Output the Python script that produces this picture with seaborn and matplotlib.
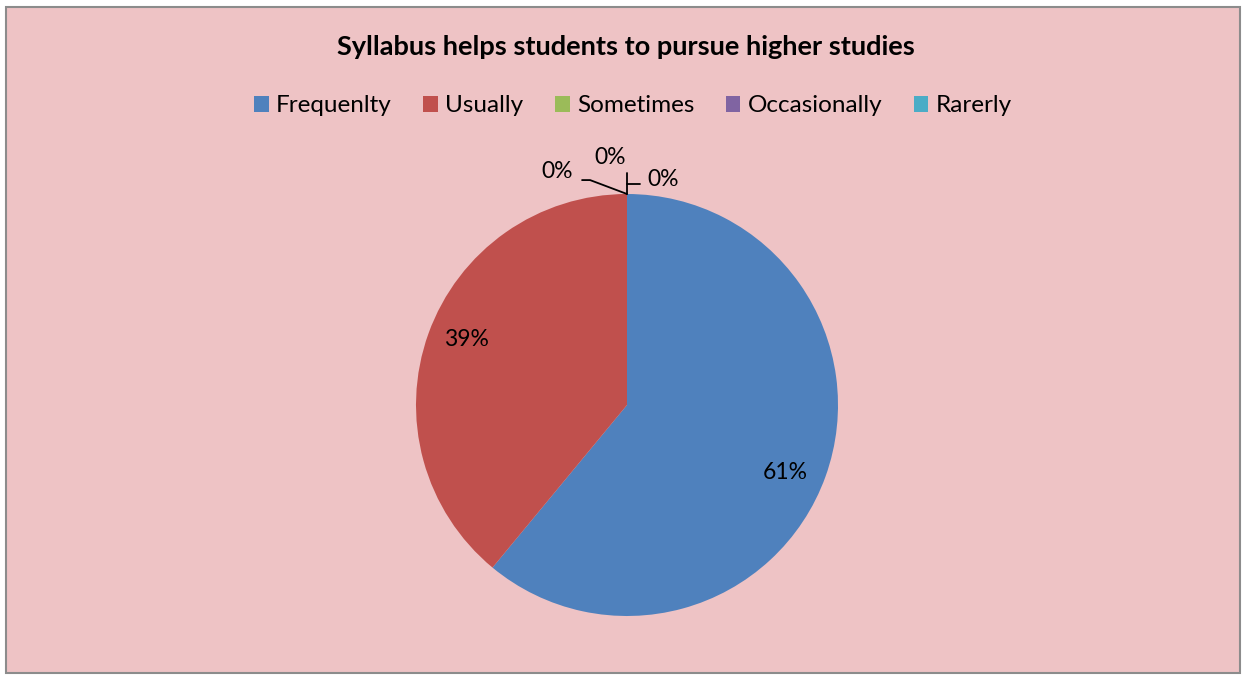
import matplotlib
matplotlib.use('Agg')
import matplotlib.pyplot as plt
import seaborn as sns
from matplotlib.patches import Rectangle

categories = ['Frequenlty', 'Usually', 'Sometimes', 'Occasionally', 'Rarerly']
shares = [61, 39, 0, 0, 0]
colors = ['#4F81BD', '#C0504D', '#9BBB59', '#8064A2', '#4BACC6']
title = 'Syllabus helps students to pursue higher studies'

sns.set_style('white')
plt.rcParams['font.family'] = ['Lato', 'DejaVu Sans']
plt.rcParams['text.color'] = 'black'

W, H = 1248, 675
fig = plt.figure(figsize=(W / 100, H / 100), dpi=100)
fig.patch.set_facecolor('white')

# chart area background
fig.patches.append(Rectangle((6 / W, 2 / H), (1240 - 6) / W, (668 - 2) / H,
                             transform=fig.transFigure, facecolor='#EEC3C5',
                             edgecolor='#8C8C8C', linewidth=1.5, zorder=-10))

cx, cy, r = 627, 405, 211
ax = fig.add_axes([(cx - r) / W, (H - cy - r) / H, 2 * r / W, 2 * r / H])
ax.axis('off')

wedges, _ = ax.pie(shares, colors=sns.color_palette(colors), startangle=90,
                   counterclock=False, radius=1, normalize=True,
                   wedgeprops=dict(linewidth=0))
ax.set_xlim(-1, 1)
ax.set_ylim(-1, 1)
ax.set_aspect('equal')

lab_kw = dict(fontsize=16.5, color='black', ha='center', va='center')
ax.text(0.75, -0.32, f'{shares[0]}%', **lab_kw)
ax.text(-0.76, 0.31, f'{shares[1]}%', **lab_kw)

# zero-share labels with leader lines
ax.text(-0.33, 1.105, f'{shares[2]}%', clip_on=False, **lab_kw)
ax.plot([-0.213, -0.175, 0], [1.066, 1.066, 1.0], color='black', lw=1.3, clip_on=False)
ax.text(-0.08, 1.175, f'{shares[3]}%', clip_on=False, **lab_kw)
ax.plot([0, 0], [1.0, 1.1], color='black', lw=1.3, clip_on=False)
ax.text(0.17, 1.07, f'{shares[4]}%', clip_on=False, **lab_kw)
ax.plot([0, 0.06], [1.047, 1.047], color='black', lw=1.3, clip_on=False)

fig.text(626 / W, 1 - 47 / H, title, fontsize=19.5, fontweight='bold',
         color='black', ha='center', va='center')

handles = [Rectangle((0, 0), 1, 1, facecolor=c, edgecolor='none') for c in colors]
leg = fig.legend(handles, categories, loc='center', bbox_to_anchor=(633 / W, 1 - 106 / H),
                 ncol=5, frameon=False, fontsize=17.5, handlelength=0.6, handleheight=0.6,
                 handletextpad=0.3, columnspacing=1.3, borderpad=0, borderaxespad=0)
for t in leg.get_texts():
    t.set_color('black')

fig.savefig('out.png', dpi=100)
plt.close(fig)
